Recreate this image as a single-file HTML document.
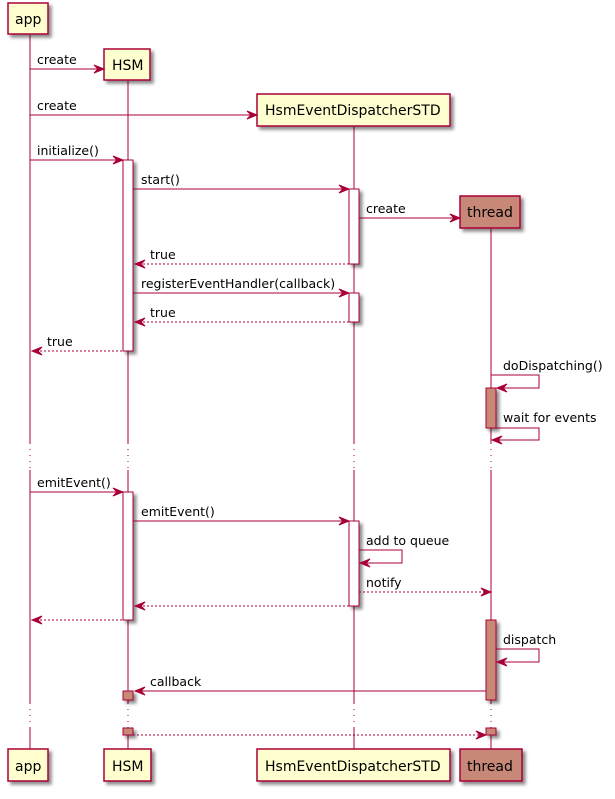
<!DOCTYPE html>
<html><head><style>body{margin:0;background:#fff}svg{display:block}text{font-family:"DejaVu Sans","Liberation Sans",sans-serif;font-size:12.5px;fill:#000}</style></head>
<body>
<svg width="615" height="799" viewBox="0 0 615 799" xmlns="http://www.w3.org/2000/svg">
<defs>
<filter id="sh" x="-20%" y="-20%" width="150%" height="150%"><feGaussianBlur in="SourceAlpha" stdDeviation="1.5"/><feOffset dx="3" dy="3"/><feComponentTransfer><feFuncA type="linear" slope="0.45"/></feComponentTransfer><feMerge><feMergeNode/><feMergeNode in="SourceGraphic"/></feMerge></filter>
</defs>
<g stroke="#A80036" stroke-width="1" fill="none">
<!-- lifelines -->
<line x1="30" y1="35" x2="30" y2="749"/>
<line x1="128" y1="81" x2="128" y2="749"/>
<line x1="354" y1="127" x2="354" y2="749"/>
<line x1="491" y1="229" x2="491" y2="749"/>
</g>
<!-- delay gaps -->
<rect x="0" y="443" width="615" height="27" fill="#fff"/>
<rect x="0" y="703" width="615" height="25" fill="#fff"/>
<g stroke="#A80036" stroke-dasharray="1,5" fill="none">
<line x1="30" y1="443" x2="30" y2="470"/><line x1="128" y1="443" x2="128" y2="470"/><line x1="354" y1="443" x2="354" y2="470"/><line x1="491" y1="443" x2="491" y2="470"/>
<line x1="30" y1="703" x2="30" y2="728"/><line x1="128" y1="703" x2="128" y2="728"/><line x1="354" y1="703" x2="354" y2="728"/><line x1="491" y1="703" x2="491" y2="728"/>
</g>
<!-- activations -->
<g stroke="#A80036" filter="url(#sh)">
<rect x="123" y="160" width="10" height="191" fill="#fff"/>
<rect x="349" y="189" width="10" height="75" fill="#fff"/>
<rect x="349" y="293" width="10" height="29" fill="#fff"/>
<rect x="486" y="388" width="10" height="40" fill="#C88878"/>
<rect x="123" y="492" width="10" height="128" fill="#fff"/>
<rect x="349" y="521" width="10" height="85" fill="#fff"/>
<rect x="486" y="620" width="10" height="80" fill="#C88878"/>
<rect x="123" y="691" width="10" height="9" fill="#C88878"/>
<rect x="123" y="728" width="10" height="7" fill="#C88878"/>
<rect x="486" y="728" width="10" height="7" fill="#C88878"/>
</g>
<!-- participants -->
<g stroke="#A80036" stroke-width="1.5" filter="url(#sh)">
<rect x="8" y="3" width="40" height="31" fill="#FEFECE"/>
<rect x="104" y="49" width="46" height="31" fill="#FEFECE"/>
<rect x="257" y="94" width="193" height="32" fill="#FEFECE"/>
<rect x="460" y="196" width="60" height="32" fill="#C88878"/>
<rect x="8" y="749" width="40" height="32" fill="#FEFECE"/>
<rect x="104" y="749" width="47" height="32" fill="#FEFECE"/>
<rect x="257" y="749" width="193" height="32" fill="#FEFECE"/>
<rect x="460" y="749" width="62" height="32" fill="#C88878"/>
</g>
<g font-size="14">
<text x="15" y="24" style="font-size:14px">app</text>
<text x="112" y="70" style="font-size:14px">HSM</text>
<text x="265" y="115" style="font-size:14px">HsmEventDispatcherSTD</text>
<text x="467" y="217" style="font-size:14px">thread</text>
<text x="15" y="771" style="font-size:14px">app</text>
<text x="112" y="771" style="font-size:14px">HSM</text>
<text x="265" y="771" style="font-size:14px">HsmEventDispatcherSTD</text>
<text x="467" y="771" style="font-size:14px">thread</text>
</g>
<!-- messages -->
<g stroke="#A80036" fill="none">
<line x1="30" y1="69" x2="103" y2="69"/>
<line x1="30" y1="115" x2="256" y2="115"/>
<line x1="30" y1="160" x2="122" y2="160"/>
<line x1="133" y1="189" x2="348" y2="189"/>
<line x1="359" y1="218" x2="459" y2="218"/>
<line x1="135" y1="264" x2="349" y2="264" stroke-dasharray="2,2"/>
<line x1="133" y1="293" x2="348" y2="293"/>
<line x1="135" y1="322" x2="349" y2="322" stroke-dasharray="2,2"/>
<line x1="32" y1="351" x2="123" y2="351" stroke-dasharray="2,2"/>
<polyline points="491,375 539,375 539,388 497,388"/>
<polyline points="496,428 539,428 539,440 492,440"/>
<line x1="30" y1="492" x2="122" y2="492"/>
<line x1="133" y1="521" x2="348" y2="521"/>
<polyline points="359,550 402,550 402,563 360,563"/>
<line x1="359" y1="592" x2="490" y2="592" stroke-dasharray="2,2"/>
<line x1="135" y1="606" x2="349" y2="606" stroke-dasharray="2,2"/>
<line x1="32" y1="620" x2="123" y2="620" stroke-dasharray="2,2"/>
<polyline points="496,649 539,649 539,662 497,662"/>
<line x1="135" y1="691" x2="486" y2="691"/>
<line x1="133" y1="735" x2="485" y2="735" stroke-dasharray="2,2"/>
</g>
<g fill="#A80036" stroke="#A80036">
<polygon points="94,65 104,69 94,73 98,69"/>
<polygon points="247,111 257,115 247,119 251,115"/>
<polygon points="113,156 123,160 113,164 117,160"/>
<polygon points="339,185 349,189 339,193 343,189"/>
<polygon points="450,214 460,218 450,222 454,218"/>
<polygon points="145,260 135,264 145,268 141,264"/>
<polygon points="339,289 349,293 339,297 343,293"/>
<polygon points="145,318 135,322 145,326 141,322"/>
<polygon points="42,347 32,351 42,355 38,351"/>
<polygon points="507,384 497,388 507,392 503,388"/>
<polygon points="502,436 492,440 502,444 498,440"/>
<polygon points="113,488 123,492 113,496 117,492"/>
<polygon points="339,517 349,521 339,525 343,521"/>
<polygon points="370,559 360,563 370,567 366,563"/>
<polygon points="481,588 491,592 481,596 485,592"/>
<polygon points="145,602 135,606 145,610 141,606"/>
<polygon points="42,616 32,620 42,624 38,620"/>
<polygon points="507,658 497,662 507,666 503,662"/>
<polygon points="145,687 135,691 145,695 141,691"/>
<polygon points="476,731 486,735 476,739 480,735"/>
</g>
<text x="37" y="64">create</text>
<text x="37" y="110">create</text>
<text x="37" y="155">initialize()</text>
<text x="141" y="184">start()</text>
<text x="366" y="213">create</text>
<text x="150" y="259">true</text>
<text x="141" y="288">registerEventHandler(callback)</text>
<text x="150" y="317">true</text>
<text x="47" y="346">true</text>
<text x="503" y="370">doDispatching()</text>
<text x="503" y="422">wait for events</text>
<text x="37" y="487">emitEvent()</text>
<text x="141" y="516">emitEvent()</text>
<text x="366" y="545">add to queue</text>
<text x="366" y="587">notify</text>
<text x="503" y="644">dispatch</text>
<text x="150" y="686">callback</text>
</svg>
</body></html>
